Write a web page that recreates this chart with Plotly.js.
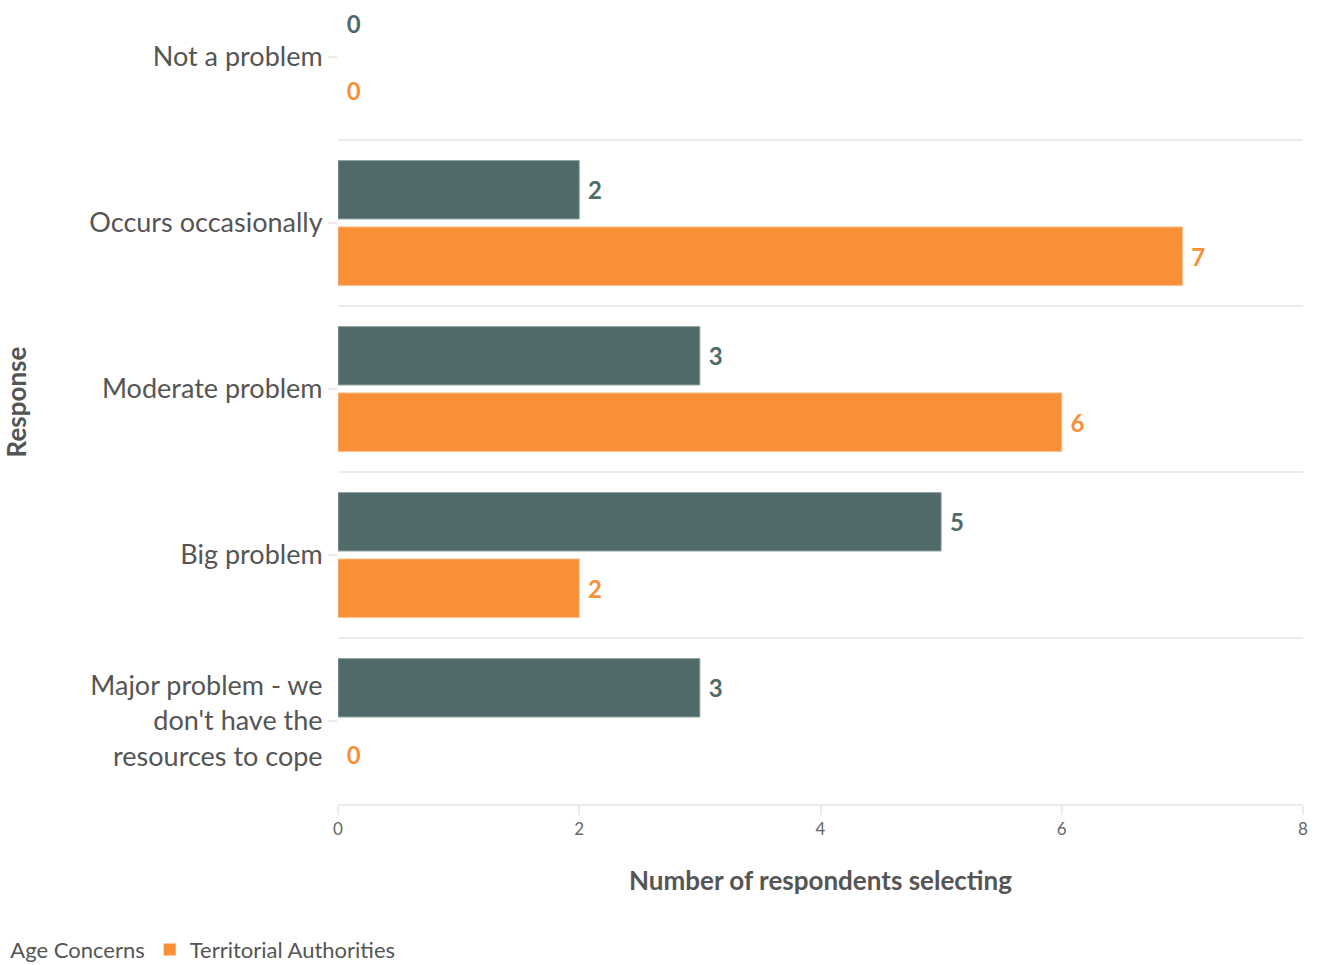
<!DOCTYPE html>
<html>
<head>
<meta charset="utf-8">
<script src="https://cdn.plot.ly/plotly-3.0.1.min.js"></script>
<style>html,body{margin:0;padding:0;background:#fff;}#chart{width:1323px;height:965px;}</style>
</head>
<body>
<div id="chart"></div>
<script>
const categories = [
  "Not a problem",
  "Occurs occasionally",
  "Moderate problem",
  "Big problem",
  "Major problem - we<br>don't have the<br>resources to cope"
];
const ageConcerns = [0, 2, 3, 5, 3];
const territorialAuthorities = [0, 7, 6, 2, 0];
const seriesNames = ["Age Concerns", "Territorial Authorities"];
const xTickVals = [0, 2, 4, 6, 8];

const FONT = "Source Sans Pro, Lato, Noto Sans, sans-serif";
const DARK = "#4f6a69";
const ORANGE = "#f98f36";

function barTrace(name, values, color, lineColor) {
  return {
    type: "bar",
    orientation: "h",
    name: name,
    y: categories,
    x: values,
    text: values.map(v => "\u00a0" + v),
    textposition: "outside",
    cliponaxis: false,
    textfont: {family: FONT, size: 24, color: color, weight: "bold"},
    marker: {color: color, line: {color: lineColor, width: values.map(v => v > 0 ? 1 : 0)}},
    hoverinfo: "none"
  };
}

const data = [
  barTrace(seriesNames[0], ageConcerns, DARK, "#8fa3a2"),
  barTrace(seriesNames[1], territorialAuthorities, ORANGE, "#fbbd88")
];

const shapes = [0.5, 1.5, 2.5, 3.5].map(v => ({
  type: "line", xref: "paper", yref: "y", x0: 0, x1: 1, y0: v, y1: v,
  line: {color: "#ebebeb", width: 2}, layer: "below"
}));

const layout = {
  width: 1323, height: 965,
  margin: {l: 338, r: 20, t: 0, b: 161, autoexpand: false},
  paper_bgcolor: "#fff", plot_bgcolor: "#fff",
  font: {family: FONT, color: "#555"},
  barmode: "group",
  bargap: 0.2,
  bargroupgap: 0.12,
  showlegend: true,
  legend: {
    orientation: "h", x: -0.381, xanchor: "left", y: -0.155, yanchor: "top",
    font: {family: FONT, size: 22, color: "#555"},
    traceorder: "normal", itemwidth: 30
  },
  xaxis: {
    automargin: false,
    range: [0, 8],
    tickvals: xTickVals,
    ticktext: xTickVals.map(String),
    tickfont: {family: FONT, size: 17, color: "#666"},
    showgrid: false, zeroline: false,
    showline: true, linecolor: "#ebebeb", linewidth: 2,
    ticks: "outside", ticklen: 9, tickcolor: "#ebebeb", tickwidth: 2,
    title: {text: "Number of respondents selecting", font: {family: FONT, size: 26, color: "#555", weight: "bold"}, standoff: 33}
  },
  yaxis: {
    automargin: false,
    type: "category",
    range: [4.5, -0.343],
    showgrid: false, zeroline: false, showline: false,
    ticks: "outside", ticklen: 9, tickcolor: "#ebebeb", tickwidth: 2,
    tickfont: {family: FONT, size: 27, color: "#555"},
    title: {text: "Response", font: {family: FONT, size: 26, color: "#555", weight: "bold"}, standoff: 244}
  },
  shapes: shapes
};

Plotly.newPlot("chart", data, layout, {displayModeBar: false, staticPlot: true});
</script>
</body>
</html>
